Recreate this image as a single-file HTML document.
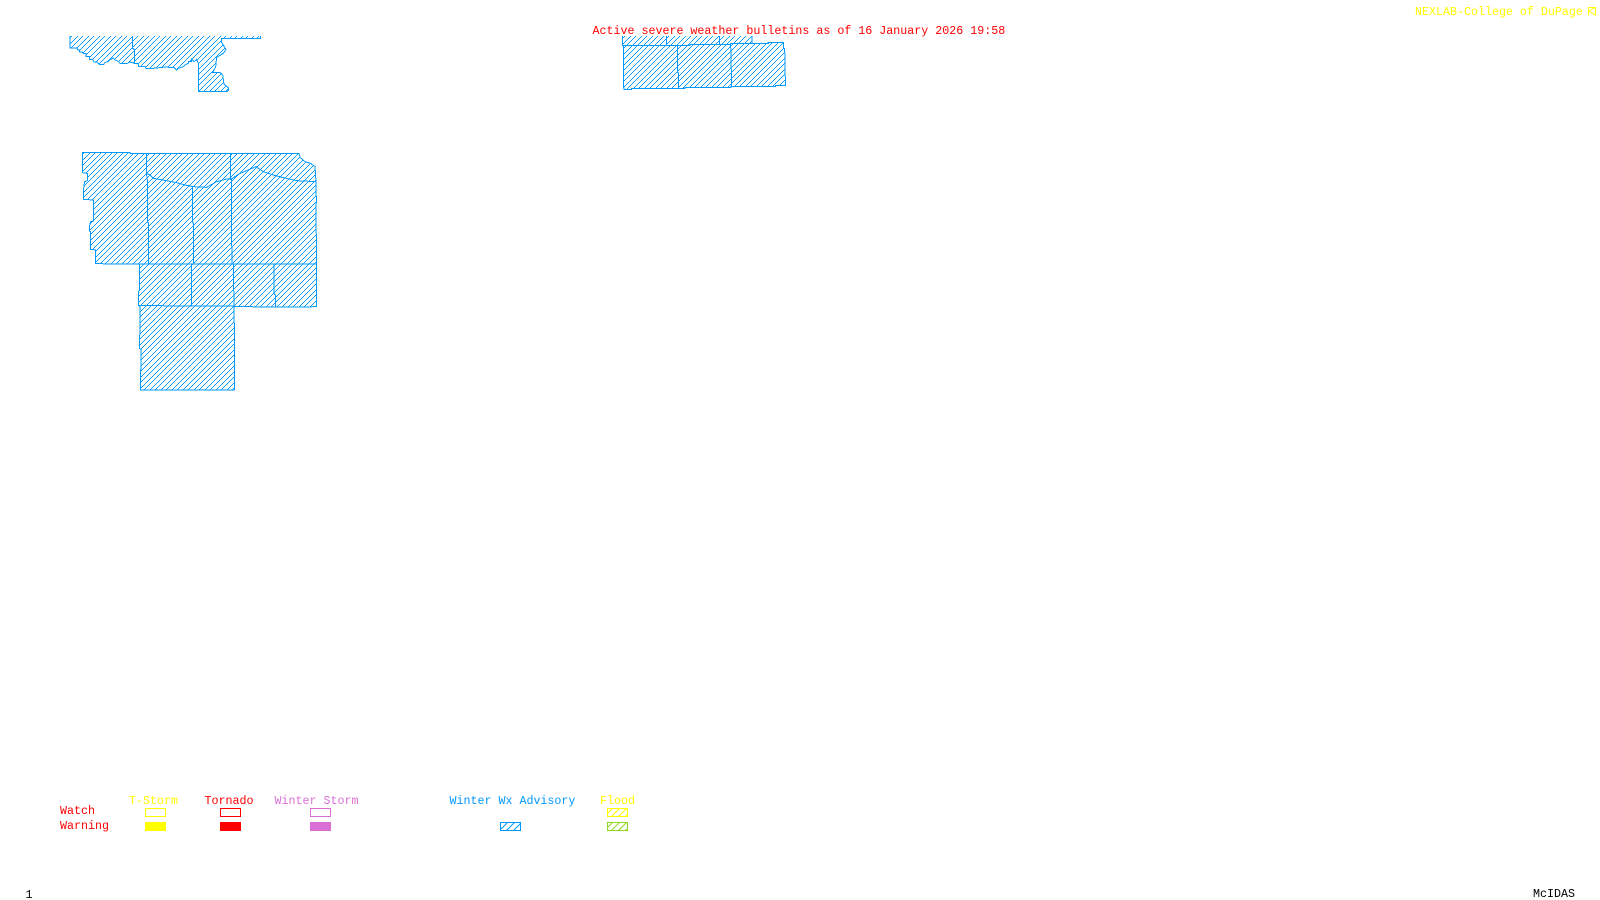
<!DOCTYPE html>
<html>
<head>
<meta charset="utf-8">
<style>
html,body{margin:0;padding:0;background:#fff;width:1600px;height:900px;overflow:hidden}
svg{display:block}
text{font-family:"Liberation Mono",monospace;font-size:11.67px;white-space:pre}
.o{fill:none;stroke:#0099ff;stroke-width:1;vector-effect:non-scaling-stroke;shape-rendering:crispEdges}
.f{fill:url(#h);stroke:none}
</style>
</head>
<body>
<svg width="1600" height="900" viewBox="0 0 1600 900" xmlns="http://www.w3.org/2000/svg">
<defs>
<pattern id="h" patternUnits="userSpaceOnUse" width="33" height="33" shape-rendering="crispEdges">
<path fill="#0099ff" d="M0 30h3v3h-3zM3 27h3v3h-3zM6 24h3v3h-3zM9 21h3v3h-3zM12 18h3v3h-3zM15 15h3v3h-3zM18 12h3v3h-3zM21 9h3v3h-3zM24 6h3v3h-3zM27 3h3v3h-3zM30 0h3v3h-3zM0 12h3v3h-3zM3 9h3v3h-3zM6 6h3v3h-3zM9 3h3v3h-3zM12 0h3v3h-3zM15 30h3v3h-3zM18 27h3v3h-3zM21 24h3v3h-3zM24 21h3v3h-3zM27 18h3v3h-3zM30 15h3v3h-3z"/>
</pattern>
<pattern id="lb" patternUnits="userSpaceOnUse" width="7" height="7"><path d="M-1 8L8 -1M-1 1L1 -1M6 8L8 6" stroke="#0099ff" stroke-width="1"/></pattern>
<pattern id="ly" patternUnits="userSpaceOnUse" width="7" height="7"><path d="M-1 8L8 -1M-1 1L1 -1M6 8L8 6" stroke="#ffff00" stroke-width="1"/></pattern>
<pattern id="lg" patternUnits="userSpaceOnUse" width="7" height="7"><path d="M-1 8L8 -1M-1 1L1 -1M6 8L8 6" stroke="#90d820" stroke-width="1"/></pattern>
</defs>

<!-- upper-left area -->
<g transform="translate(50,20) scale(0.33333)">
<polygon class="f" points="60,48 60,84 80,84 84,90 88,90 88,96 96,96 100,100 108,100 108,110 118,110 118,118 128,118 132,126 142,126 148,134 160,134 165,128 175,124 178,120 190,114 195,120 205,124 210,130 232,130 240,126 253,130 265,130 265,140 285,140 288,145 310,145 345,141 372,143 380,150 385,145 400,140 405,135 415,130 415,125 425,125 425,118 432,125 440,118 445,130 445,215 530,215 536,210 535,203 522,192 518,165 510,157 488,157 497,140 500,112 520,100 528,88 515,68 515,55 632,55 632,48"/>
<polyline class="o" points="60,48 60,84 80,84 84,90 88,90 88,96 96,96 100,100 108,100 108,110 118,110 118,118 128,118 132,126 142,126 148,134 160,134 165,128 175,124 178,120 190,114 195,120 205,124 210,130 232,130 240,126 253,130 265,130 265,140 285,140 288,145 310,145 345,141 372,143 380,150 385,145 400,140 405,135 415,130 415,125 425,125 425,118 432,125 440,118 445,130 445,215 530,215 536,210 535,203 522,192 518,165 510,157 488,157 497,140 500,112 520,100 528,88 515,68 515,55 632,55 632,48"/>
<polyline class="o" points="247,48 247,85 253,88 253,130"/>
</g>

<!-- main area -->
<g transform="translate(70,140) scale(0.33333)">
<polygon class="f" points="37,38 180,38 180,41 687,41 690,52 705,65 722,70 735,80 738,125 739,180 738,220 740,372 740,500 695,501 578,501 492,499 494,625 494,750 211,750 211,690 213,690 213,628 208,625 210,560 210,499 205,497 205,455 208,452 208,372 100,372 97,370 77,370 77,330 62,328 62,275 58,273 58,260 62,245 70,243 70,180 40,178 40,150 44,125 52,122 52,100 37,98"/>
<polygon class="o" points="37,38 180,38 180,41 687,41 690,52 705,65 722,70 735,80 738,125 739,180 738,220 740,372 740,500 695,501 578,501 492,499 494,625 494,750 211,750 211,690 213,690 213,628 208,625 210,560 210,499 205,497 205,455 208,452 208,372 100,372 97,370 77,370 77,330 62,328 62,275 58,273 58,260 62,245 70,243 70,180 40,178 40,150 44,125 52,122 52,100 37,98"/>
<polyline class="o" points="229,41 229,100 232,120 232,245 236,250 236,372"/>
<polyline class="o" points="229,100 240,105 250,115 290,122 320,128 345,135 370,140 410,142 440,125 470,117 483,118 510,100 530,92 558,80 580,95 610,105 640,113 680,122 738,125"/>
<polyline class="o" points="481,41 481,115 484,120 484,225 486,372"/>
<polyline class="o" points="367,140 367,245 370,250 370,372"/>
<polyline class="o" points="208,372 740,372"/>
<polyline class="o" points="364,372 364,499"/>
<polyline class="o" points="490,372 492,499"/>
<polyline class="o" points="612,372 612,460 616,465 616,501"/>
<polyline class="o" points="205,497 492,498"/>
</g>

<!-- upper-centre area -->
<g transform="translate(615,30) scale(0.33333)">
<polygon class="f" points="22,18 22,47 25,47 25,165 27,177 210,175 210,172 348,172 348,170 482,170 482,167 511,166 511,150 509,55 505,55 505,37 460,37 411,40 411,18"/>
<polyline class="o" points="22,18 22,47 25,47"/>
<polyline class="o" points="154,18 154,46"/>
<polyline class="o" points="314,18 314,42"/>
<polyline class="o" points="411,18 411,40"/>
<polyline class="o" points="25,47 225,47 225,43 347,43 347,40 460,40 460,37 505,37 505,55 509,55 511,150 511,166 482,167 482,170 348,170 348,172 210,172 210,175 50,175 50,178 27,178 25,165 25,47"/>
<polyline class="o" points="187,47 187,125 190,128 190,175"/>
<polyline class="o" points="347,42 350,170"/>
</g>

<!-- header -->
<text x="592.5" y="34" fill="#ff0000">Active severe weather bulletins as of 16 January 2026 19:58</text>
<text x="1415" y="15" fill="#ffff00">NEXLAB-College of DuPage</text>
<path d="M1588.5 7.5H1595.5V15M1588.5 7.5V15.5M1589 11L1595 7.5M1589 11L1595.5 15.5" fill="none" stroke="#ffff00" stroke-width="1"/>

<!-- legend -->
<text x="129" y="804" fill="#ffff00">T-Storm</text>
<text x="204.500" y="804" fill="#ff0000">Tornado</text>
<text x="274.500" y="804" fill="#da70d6">Winter Storm</text>
<text x="449.500" y="804" fill="#0099ff">Winter Wx Advisory</text>
<text x="600" y="804" fill="#ffff00">Flood</text>
<text x="60" y="814" fill="#ff0000">Watch</text>
<text x="60" y="829" fill="#ff0000">Warning</text>

<rect x="145.500" y="808.500" width="20" height="8" fill="none" stroke="#ffff00"/>
<rect x="220.500" y="808.500" width="20" height="8" fill="none" stroke="#ff0000"/>
<rect x="310.500" y="808.500" width="20" height="8" fill="none" stroke="#da70d6"/>
<rect x="145" y="822" width="21" height="9" fill="#ffff00"/>
<rect x="220" y="822" width="21" height="9" fill="#ff0000"/>
<rect x="310" y="822" width="21" height="9" fill="#da70d6"/>
<rect x="500.500" y="822.500" width="20" height="8" fill="url(#lb)" stroke="#0099ff"/>
<rect x="607.500" y="808.500" width="20" height="8" fill="url(#ly)" stroke="#ffff00"/>
<rect x="607.500" y="822.500" width="20" height="8" fill="url(#lg)" stroke="#90d820"/>

<!-- footer -->
<text x="25.500" y="898" fill="#000000">1</text>
<text x="1533" y="897" fill="#000000">McIDAS</text>
</svg>
</body>
</html>
